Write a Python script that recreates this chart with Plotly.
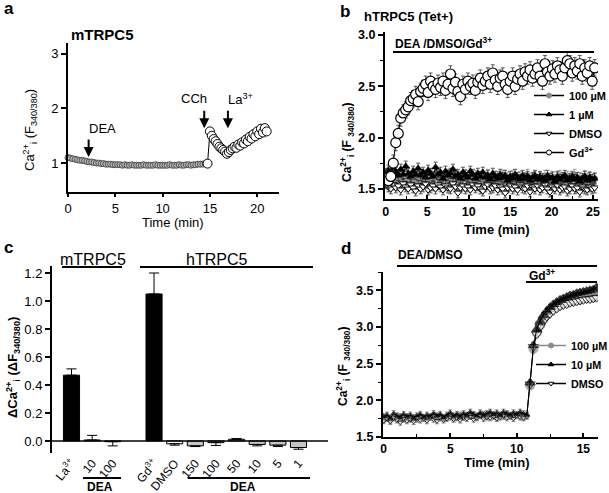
import plotly.graph_objects as go

W, H = 609, 493
FONT = "Liberation Sans, Arial, Helvetica, sans-serif"

# ---------------- data ----------------
# Panel a (mTRPC5 trace); baseline sampled every 0.25 min, response every 0.2 min from 15 min
A_DT1 = 0.25
a_base = [1.10, 1.09, 1.08, 1.07, 1.06, 1.05, 1.05, 1.04, 1.03, 1.02,
          1.02, 1.01, 1.00, 1.00, 0.99, 0.99, 0.98, 0.98, 0.98, 0.97,
          0.97, 0.97, 0.97, 0.96, 0.97, 0.96, 0.96, 0.97, 0.96, 0.96,
          0.96, 0.96, 0.97, 0.96, 0.96, 0.96, 0.96, 0.97, 0.96, 0.96,
          0.96, 0.96, 0.96, 0.97, 0.96, 0.96, 0.96, 0.97, 0.96, 0.96,
          0.97, 0.97, 0.96, 0.97, 0.97, 0.98, 0.98, 0.98, 0.99, 0.99]
A_T2 = 15.0
A_DT2 = 0.2
a_resp = [1.58, 1.50, 1.44, 1.40, 1.35, 1.30, 1.27, 1.24, 1.21, 1.17,
          1.20, 1.24, 1.27, 1.30, 1.28, 1.34, 1.32, 1.38, 1.36, 1.43,
          1.40, 1.48, 1.45, 1.53, 1.49, 1.58, 1.53, 1.63, 1.56, 1.64, 1.58]
a_xticks = [0, 5, 10, 15, 20]
a_yticks = [1, 2, 3]
a_events = [("DEA", 2.18, 1.11), ("CCh", 14.4, 1.64), ("La<sup>3+</sup>", 16.9, 1.64)]

# Panel b (hTRPC5 Tet+), sampled every 0.3 min
B_DT = 0.3
b_100uM = [1.62, 1.58, 1.64, 1.60, 1.57, 1.63, 1.59, 1.61, 1.56, 1.62,
           1.60, 1.64, 1.58, 1.61, 1.57, 1.63, 1.60, 1.59, 1.62, 1.58,
           1.64, 1.60, 1.57, 1.61, 1.59, 1.63, 1.58, 1.60, 1.62, 1.57,
           1.61, 1.59, 1.63, 1.58, 1.60, 1.56, 1.62, 1.59, 1.61, 1.57,
           1.60, 1.63, 1.58, 1.60, 1.56, 1.61, 1.59, 1.62, 1.57, 1.60,
           1.58, 1.62, 1.59, 1.57, 1.61, 1.58, 1.60, 1.63, 1.57, 1.59,
           1.61, 1.58, 1.60, 1.56, 1.62, 1.59, 1.57, 1.61, 1.58, 1.60,
           1.62, 1.57, 1.59, 1.61, 1.58, 1.60, 1.63, 1.58, 1.60, 1.57,
           1.62, 1.59, 1.61, 1.58, 1.60]
b_1uM = [1.65, 1.68, 1.62, 1.70, 1.66, 1.63, 1.69, 1.64, 1.72, 1.65,
         1.62, 1.67, 1.64, 1.70, 1.63, 1.66, 1.61, 1.68, 1.65, 1.62,
         1.71, 1.64, 1.66, 1.60, 1.67, 1.63, 1.65, 1.69, 1.62, 1.64,
         1.60, 1.66, 1.63, 1.61, 1.67, 1.64, 1.60, 1.65, 1.62, 1.66,
         1.61, 1.63, 1.59, 1.65, 1.62, 1.60, 1.64, 1.61, 1.63, 1.58,
         1.62, 1.60, 1.64, 1.61, 1.59, 1.63, 1.60, 1.62, 1.58, 1.61,
         1.63, 1.59, 1.62, 1.60, 1.58, 1.63, 1.60, 1.61, 1.57, 1.62,
         1.59, 1.61, 1.63, 1.58, 1.60, 1.62, 1.59, 1.61, 1.57, 1.60,
         1.62, 1.58, 1.61, 1.59, 1.60]
b_dmso = [1.55, 1.52, 1.50, 1.54, 1.51, 1.53, 1.49, 1.55, 1.52, 1.50,
          1.54, 1.51, 1.48, 1.53, 1.50, 1.52, 1.55, 1.49, 1.51, 1.53,
          1.50, 1.54, 1.52, 1.49, 1.53, 1.51, 1.50, 1.55, 1.52, 1.46,
          1.51, 1.53, 1.50, 1.52, 1.49, 1.54, 1.51, 1.53, 1.50, 1.48,
          1.52, 1.54, 1.50, 1.51, 1.53, 1.49, 1.52, 1.50, 1.46, 1.51,
          1.53, 1.50, 1.52, 1.49, 1.54, 1.51, 1.50, 1.53, 1.47, 1.52,
          1.50, 1.53, 1.49, 1.51, 1.54, 1.50, 1.47, 1.52, 1.50, 1.53,
          1.49, 1.51, 1.52, 1.48, 1.50, 1.53, 1.50, 1.51, 1.47, 1.52,
          1.50, 1.49, 1.52, 1.50, 1.51]
b_gd = [1.60, 1.58, 1.62, 1.75, 1.95, 2.04, 2.19, 2.24, 2.27, 2.30,
        2.36, 2.38, 2.42, 2.35, 2.45, 2.48, 2.52, 2.44, 2.55, 2.50,
        2.47, 2.53, 2.49, 2.55, 2.46, 2.52, 2.62, 2.48, 2.54, 2.45,
        2.40, 2.52, 2.47, 2.55, 2.50, 2.53, 2.46, 2.54, 2.58, 2.51,
        2.55, 2.60, 2.52, 2.63, 2.56, 2.50, 2.58, 2.60, 2.52, 2.47,
        2.55, 2.60, 2.50, 2.57, 2.62, 2.55, 2.64, 2.60, 2.66, 2.58,
        2.62, 2.68, 2.60, 2.55, 2.72, 2.64, 2.60, 2.67, 2.62, 2.70,
        2.66, 2.60, 2.68, 2.75, 2.72, 2.63, 2.70, 2.65, 2.72, 2.60,
        2.68, 2.63, 2.70, 2.55, 2.68]
b_sem = {"100 µM": 0.06, "1 µM": 0.05, "DMSO": 0.05, "Gd3+": 0.08}
b_xticks = [0, 5, 10, 15, 20, 25]
b_yticks = [1.5, 2.0, 2.5, 3.0]

# Panel c (bar summary)
c_labels = ["La<sup>3+</sup>", "10", "100", "Gd<sup>3+</sup>", "DMSO",
            "150", "100", "50", "10", "5", "1"]
c_values = [0.47, 0.007, -0.005, 1.05, -0.02, -0.035, -0.012, 0.012, -0.025, -0.03, -0.047]
c_errors = [0.045, 0.033, 0.03, 0.15, 0.01, 0.005, 0.02, 0.005, 0.01, 0.01, 0.012]
c_kind = ["blocker", "dea", "dea", "blocker", "dmso", "dea", "dea", "dea", "dea", "dea", "dea"]
c_yticks = [0.0, 0.2, 0.4, 0.6, 0.8, 1.0, 1.2]

# Panel d (DEA/DMSO then Gd3+), sampled every 0.25 min; Gd3+ response from 11 min
D_DT = 0.25
D_T_GD = 11.0
d_100uM_base = [1.74, 1.76, 1.73, 1.77, 1.75, 1.78, 1.74, 1.76, 1.75, 1.77, 1.74,
                1.78, 1.76, 1.75, 1.77, 1.79, 1.76, 1.78, 1.75, 1.77, 1.79, 1.76,
                1.78, 1.80, 1.77, 1.79, 1.78, 1.80, 1.77, 1.79, 1.81, 1.78, 1.80,
                1.79, 1.77, 1.80, 1.78, 1.81, 1.79, 1.78, 1.80, 1.79, 1.77, 1.79]
d_100uM_gd = [2.20, 2.70, 2.92, 3.02, 3.10, 3.16, 3.21, 3.25, 3.28, 3.30, 3.33,
              3.34, 3.36, 3.35, 3.38, 3.37, 3.40, 3.39, 3.41, 3.40, 3.42]
d_10uM_base = [1.78, 1.80, 1.76, 1.82, 1.79, 1.77, 1.81, 1.78, 1.80, 1.76, 1.79,
               1.81, 1.77, 1.80, 1.78, 1.82, 1.79, 1.81, 1.77, 1.80, 1.83, 1.79,
               1.81, 1.78, 1.82, 1.80, 1.84, 1.81, 1.79, 1.83, 1.80, 1.82, 1.84,
               1.81, 1.83, 1.80, 1.84, 1.82, 1.80, 1.83, 1.81, 1.84, 1.82, 1.80]
d_10uM_gd = [2.24, 2.75, 2.97, 3.08, 3.16, 3.22, 3.27, 3.31, 3.34, 3.37, 3.39,
             3.41, 3.43, 3.44, 3.46, 3.47, 3.48, 3.49, 3.50, 3.51, 3.54]
d_dmso_base = [1.72, 1.75, 1.71, 1.76, 1.73, 1.70, 1.75, 1.72, 1.74, 1.71, 1.76,
               1.73, 1.75, 1.72, 1.77, 1.74, 1.72, 1.76, 1.73, 1.75, 1.77, 1.74,
               1.76, 1.73, 1.77, 1.75, 1.78, 1.74, 1.76, 1.79, 1.75, 1.77, 1.76,
               1.78, 1.75, 1.77, 1.79, 1.76, 1.78, 1.75, 1.79, 1.77, 1.76, 1.78]
d_dmso_gd = [2.22, 2.73, 2.90, 3.00, 3.08, 3.14, 3.18, 3.22, 3.25, 3.28, 3.30,
             3.31, 3.33, 3.34, 3.35, 3.36, 3.37, 3.38, 3.38, 3.39, 3.40]
d_sem = 0.04
d_xticks = [0, 5, 10, 15]
d_yticks = [1.5, 2.0, 2.5, 3.0, 3.5]


# ---------------- helpers ----------------
def px(x):
    return x / W


def py(y):
    return 1 - y / H


def font(size, bold=False, color="black"):
    f = dict(family=FONT, size=size, color=color)
    if bold:
        f["weight"] = "bold"
    return f


def times(vals, dt, start=0.0):
    return [start + i * dt for i in range(len(vals))]


fig = go.Figure()

# ---------------- panel a ----------------
ta1 = times(a_base, A_DT1)
ta2 = times(a_resp, A_DT2, A_T2)
fig.add_trace(go.Scatter(x=ta1 + ta2, y=a_base + a_resp, mode="lines",
                         line=dict(color="black", width=1), xaxis="x", yaxis="y",
                         showlegend=False, hoverinfo="skip", cliponaxis=False))
fig.add_trace(go.Scatter(x=ta1[:-1], y=a_base[:-1], mode="markers",
                         marker=dict(symbol="circle", size=6, color="#b5b5b5",
                                     line=dict(color="#3a3a3a", width=0.8)),
                         xaxis="x", yaxis="y", showlegend=False, cliponaxis=False))
fig.add_trace(go.Scatter(x=ta1[-1:] + ta2, y=a_base[-1:] + a_resp, mode="markers",
                         marker=dict(symbol="circle", size=9, color="white",
                                     line=dict(color="black", width=1)),
                         xaxis="x", yaxis="y", showlegend=False, cliponaxis=False))

# ---------------- panel b ----------------
b_series = [
    ("100 µM", b_100uM, dict(symbol="circle", size=6, color="#8a8a8a",
                             line=dict(color="#8a8a8a", width=0.5)), "#8a8a8a"),
    ("DMSO", b_dmso, dict(symbol="triangle-down", size=7, color="white",
                          line=dict(color="black", width=1)), "black"),
    ("1 µM", b_1uM, dict(symbol="triangle-up", size=7, color="black",
                         line=dict(color="black", width=0.5)), "black"),
    ("Gd3+", b_gd, dict(symbol="circle", size=10, color="white",
                        line=dict(color="black", width=1.2)), "black"),
]
for name, vals, mk, col in b_series:
    fig.add_trace(go.Scatter(
        x=times(vals, B_DT), y=vals, mode="lines+markers", name=name,
        line=dict(color=col, width=1), marker=mk,
        error_y=dict(type="constant", value=b_sem[name], color=col if col != "black" else "#333",
                     thickness=0.8, width=2),
        xaxis="x2", yaxis="y2", showlegend=False))

# legend-only entries (placed outside the visible range)
b_leg = [("100 µM", "circle", "#8a8a8a", "#8a8a8a"),
         ("1 µM", "triangle-up", "black", "black"),
         ("DMSO", "triangle-down", "white", "black"),
         ("Gd<sup>3+</sup>", "circle", "white", "black")]
for name, sym, fc, lc in b_leg:
    fig.add_trace(go.Scatter(x=[-50], y=[-50], mode="lines+markers", name=name,
                             line=dict(color="black", width=1.5),
                             marker=dict(symbol=sym, size=5, color=fc, line=dict(color=lc, width=1)),
                             xaxis="x2", yaxis="y2", legend="legend", hoverinfo="skip"))

# ---------------- panel c ----------------
c_pos = [i if i < 3 else i + 1 for i in range(len(c_labels))]
c_colmap = {"blocker": "black", "dmso": "white", "dea": "#c4c4c4"}
fig.add_trace(go.Bar(
    x=c_pos, y=c_values, width=0.78,
    marker=dict(color=[c_colmap[k] for k in c_kind], line=dict(color="black", width=1)),
    error_y=dict(type="data", symmetric=False,
                 array=[e if v >= 0 else 0 for v, e in zip(c_values, c_errors)],
                 arrayminus=[0 if v >= 0 else e for v, e in zip(c_values, c_errors)],
                 color="black", thickness=1, width=5),
    xaxis="x3", yaxis="y3", showlegend=False))

# ---------------- panel d ----------------
d_series = [
    ("100 µM", d_100uM_base, d_100uM_gd, "circle", "#8a8a8a", "#8a8a8a", "#8a8a8a"),
    ("DMSO", d_dmso_base, d_dmso_gd, "triangle-down", "white", "black", "black"),
    ("10 µM", d_10uM_base, d_10uM_gd, "triangle-up", "black", "black", "black"),
]
for name, base, resp, sym, fc, lc, col in d_series:
    xs = times(base, D_DT) + times(resp, D_DT, D_T_GD)
    ys = base + resp
    sizes = [5] * len(base) + [9] * len(resp)
    fig.add_trace(go.Scatter(
        x=xs, y=ys, mode="lines+markers", name=name,
        line=dict(color=col, width=1),
        marker=dict(symbol=sym, size=sizes, color=fc, line=dict(color=lc, width=1)),
        error_y=dict(type="constant", value=d_sem, color="#777", thickness=0.8, width=2),
        xaxis="x4", yaxis="y4", showlegend=False))

d_leg = [("100 µM", "circle", "#8a8a8a", "#8a8a8a", "#8a8a8a"),
         ("10 µM", "triangle-up", "black", "black", "black"),
         ("DMSO", "triangle-down", "white", "black", "black")]
for name, sym, fc, lc, col in d_leg:
    fig.add_trace(go.Scatter(x=[-50], y=[-50], mode="lines+markers", name=name,
                             line=dict(color=col, width=1.5),
                             marker=dict(symbol=sym, size=5, color=fc, line=dict(color=lc, width=1)),
                             xaxis="x4", yaxis="y4", legend="legend2", hoverinfo="skip"))


# ---------------- axes ----------------
def axis(domain, anchor, rng, tickvals, size, bold, fmt=None, minor=None, ticks="outside",
         ticklen=5, **kw):
    d = dict(domain=domain, anchor=anchor, range=rng, tickvals=tickvals,
             ticks=ticks, ticklen=ticklen, tickwidth=1.5, tickcolor="black",
             showline=True, linewidth=2, linecolor="black", showgrid=False,
             zeroline=False, tickfont=font(size, bold), fixedrange=True)
    if fmt:
        d["tickformat"] = fmt
    if minor:
        d["minor"] = dict(dtick=minor, ticks=ticks, ticklen=3, tickwidth=1, tickcolor="black",
                          showgrid=False)
    d.update(kw)
    return d


layout = dict(
    width=W, height=H, margin=dict(l=0, r=0, t=0, b=0, autoexpand=False),
    paper_bgcolor="white", plot_bgcolor="white",
    font=font(12),
    xaxis=axis([px(68), px(279)], "y", [0, 22.3], a_xticks, 13, False, ticklen=3),
    yaxis=axis([py(192), py(43)], "x", [0.47, 3.2], a_yticks, 13, False),
    xaxis2=axis([px(385), px(598)], "y2", [-0.1, 25.6], b_xticks, 12.5, True, minor=2.5,
                ticks="inside", ticklen=4),
    yaxis2=axis([py(199), py(32)], "x2", [1.40, 3.03], b_yticks, 12.5, True, fmt=".1f", minor=0.25),
    xaxis3=dict(domain=[px(52), px(328)], anchor="y3", range=[-0.945, 12.43],
                tickvals=c_pos, ticktext=c_labels, tickangle=-50, showline=False,
                ticks="", showgrid=False, zeroline=False, tickfont=font(12), fixedrange=True),
    yaxis3=axis([py(453), py(266)], "x3", [-0.086, 1.25], c_yticks, 13, False, fmt=".1f"),
    xaxis4=axis([px(383), px(598)], "y4", [-0.05, 16.1], d_xticks, 12, True, minor=2.5,
                ticks="inside", ticklen=4),
    yaxis4=axis([py(437), py(272)], "x4", [1.5, 3.75], d_yticks, 12.5, True, fmt=".1f", minor=0.25),
    legend=dict(x=px(529), y=py(81), xanchor="left", yanchor="top", bgcolor="rgba(0,0,0,0)",
                font=font(11, True), itemsizing="trace", tracegroupgap=0, itemwidth=30),
    legend2=dict(x=px(531), y=py(331), xanchor="left", yanchor="top", bgcolor="rgba(0,0,0,0)",
                 font=font(10.8, True), itemsizing="trace", tracegroupgap=0, itemwidth=30),
)
fig.update_layout(**layout)


# ---------------- annotations ----------------
def ptext(text, x, y, size, bold=False, xanchor="center", angle=0):
    return dict(text=text, x=px(x), y=py(y), xref="paper", yref="paper", showarrow=False,
                xanchor=xanchor, yanchor="middle", textangle=angle, font=font(size, bold))


anns = [
    ptext("a", 2, 8, 17, True, "left"),
    ptext("mTRPC5", 102, 34, 15, True),
    ptext("DEA", 87, 128, 13, False, "left"),
    ptext("CCh", 194, 99, 13, False),
    ptext("La<sup>3+</sup>", 226, 99, 13, False, "left"),
    ptext("Time (min)", 173, 222, 13),
    ptext("Ca<sup>2+</sup><sub>i</sub> (F<sub>340/380</sub>)", 30, 130, 13, False, angle=-90),
    ptext("b", 338, 12, 17, True, "left"),
    ptext("hTRPC5 (Tet+)", 362, 16, 13, True, "left"),
    ptext("DEA /DMSO/Gd<sup>3+</sup>", 393, 43, 12, True, "left"),
    ptext("Time (min)", 497, 229, 13, True),
    ptext("Ca<sup>2+</sup><sub>i</sub> (F <sub>340/380</sub>)", 347, 142, 12, True, angle=-90),
    ptext("c", 2, 247, 17, True, "left"),
    ptext("mTRPC5", 93, 259, 16),
    ptext("hTRPC5", 216, 259, 16),
    ptext("DEA", 100, 487, 12, True),
    ptext("DEA", 243, 487, 12, True),
    ptext("ΔCa<sup>2+</sup><sub>i</sub> (ΔF<sub>340/380</sub>)", 13, 368, 13, True, angle=-90),
    ptext("d", 339, 249, 17, True, "left"),
    ptext("DEA/DMSO", 396, 255, 12, True, "left"),
    ptext("Gd<sup>3+</sup>", 527, 275, 12, True, "left"),
    ptext("Time (min)", 497, 462, 13, True),
    ptext("Ca<sup>2+</sup><sub>i</sub> (F <sub>340/380</sub>)", 343, 366, 12, True, angle=-90),
]
for label, xt, yt in a_events:
    anns.append(dict(text="", x=xt, y=yt, xref="x", yref="y", showarrow=True,
                     ax=0, ay=-19, arrowhead=2, arrowsize=1, arrowwidth=2,
                     arrowcolor="black", standoff=0, startstandoff=0))
fig.update_layout(annotations=anns)


# ---------------- shapes ----------------
def hline(x0, x1, y, w=2):
    return dict(type="line", xref="paper", yref="paper", x0=px(x0), x1=px(x1),
                y0=py(y), y1=py(y), line=dict(color="black", width=w))


shapes = [
    hline(393, 594, 52),
    hline(62, 122, 267), hline(140, 313, 267),
    hline(83, 121, 478), hline(188, 310, 478),
    hline(397, 597, 266), hline(526, 597, 282),
    dict(type="line", xref="x3 domain", yref="y3", x0=0, x1=1, y0=0, y1=0,
         line=dict(color="black", width=1.5)),
]
fig.update_layout(shapes=shapes)

fig.write_html("out.html", config={"displayModeBar": False},
               post_script="document.body.style.margin='0';document.body.style.overflow='hidden';")
